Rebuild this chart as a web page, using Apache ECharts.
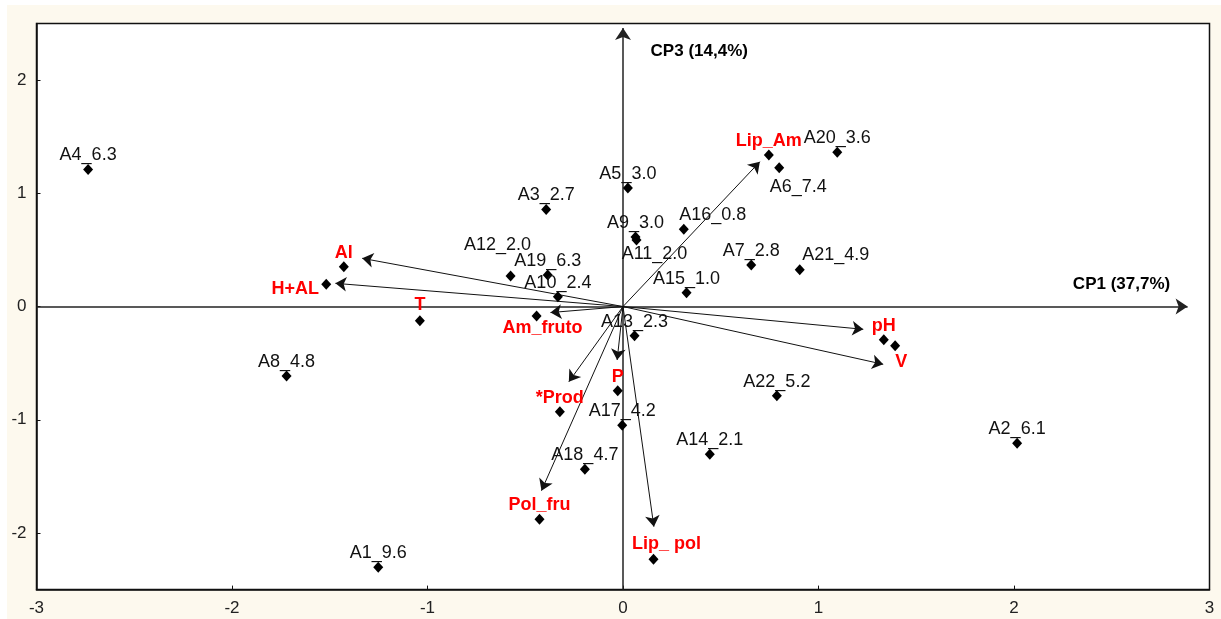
<!DOCTYPE html>
<html><head><meta charset="utf-8">
<script src="https://cdn.jsdelivr.net/npm/echarts@6/dist/echarts.min.js"></script>
<style>html,body{margin:0;padding:0;background:#fff}#c{width:1221px;height:619px}</style>
</head><body><div id="c"></div><script>
// Samples (scores)
const sampleNames = ['A1_9.6','A2_6.1','A3_2.7','A4_6.3','A5_3.0','A6_7.4','A7_2.8','A8_4.8','A9_3.0','A10_2.4','A11_2.0','A12_2.0','A13_2.3','A14_2.1','A15_1.0','A16_0.8','A17_4.2','A18_4.7','A19_6.3','A20_3.6','A21_4.9','A22_5.2'];
const sampleX = [-1.252, 2.016, -0.393, -2.736, 0.025, 0.799, 0.656, -1.721, 0.064, -0.333, 0.069, -0.575, 0.059, 0.444, 0.325, 0.311, -0.004, -0.195, -0.385, 1.096, 0.904, 0.787];
const sampleY = [-2.303, -1.208, 0.858, 1.211, 1.046, 1.226, 0.366, -0.614, 0.614, 0.087, 0.587, 0.269, -0.258, -1.305, 0.122, 0.682, -1.049, -1.438, 0.278, 1.362, 0.325, -0.788];
// Variables (loadings): point positions and vector tips
const varNames = ['Lip_Am','pH','V','Al','H+AL','T','Am_fruto','P','*Prod','Pol_fru','Lip_ pol'];
const varX = [0.746, 1.334, 1.392, -1.428, -1.518, -1.039, -0.442, -0.027, -0.323, -0.427, 0.156];
const varY = [1.338, -0.293, -0.346, 0.351, 0.196, -0.125, -0.084, -0.743, -0.929, -1.879, -2.232];
const arrowX = [0.700, 1.229, 1.331, -1.334, -1.471, null, -0.371, -0.030, -0.277, -0.417, 0.158];
const arrowY = [1.279, -0.201, -0.510, 0.426, 0.205, null, -0.053, -0.472, -0.664, -1.626, -1.944];
// Axis titles
const axisTitles = ['CP1 (37,7%)', 'CP3 (14,4%)'];
const axisTitleX = [2.55, 0.39];
const axisTitleY = [0.20, 2.25];
const yTickValues = [-2, -1, 0, 1, 2];

// label placement tweaks (style)
const defOff = [0, -14];
const sampleOff = {'A6_7.4':[19,19], 'A11_2.0':[18,14], 'A21_4.9':[36,-15], 'A12_2.0':[-13,-31], 'A16_0.8':[29,-14]};
const varOff = {'V':[6,16], 'H+AL':[-31,5], 'Am_fruto':[6,12], 'Lip_ pol':[13,-15], 'T':[0,-16]};

const FONT = '"Liberation Sans", Arial, sans-serif';
const chart = echarts.init(document.getElementById('c'), null, {renderer: 'canvas'});

const sampleData = sampleNames.map((n, i) => ({
  name: n, value: [sampleX[i], sampleY[i]],
  label: {offset: sampleOff[n] || defOff}
}));
const varData = varNames.map((n, i) => ({
  name: n, value: [varX[i], varY[i]],
  label: {offset: varOff[n] || defOff}
}));
const vecData = [];
varNames.forEach((n, i) => {
  if (arrowX[i] !== null) vecData.push({coords: [[0, 0], [arrowX[i], arrowY[i]]]});
});

chart.setOption({
  backgroundColor: '#fff',
  animation: false,
  graphic: [{type: 'rect', z: -10, silent: true, shape: {x: 7, y: 5, width: 1214, height: 614}, style: {fill: '#fdf9ee'}}],
  grid: {left: 36.5, right: 11.5, top: 23.5, bottom: 29.4, show: true, backgroundColor: '#fff', borderColor: '#111', borderWidth: 1.5},
  xAxis: {
    type: 'value', min: -3, max: 3, interval: 1,
    axisLine: {show: true, onZero: false, lineStyle: {color: '#111', width: 1.5}},
    axisTick: {show: true, inside: true, length: 4, lineStyle: {color: '#111'}},
    axisLabel: {color: '#222', fontSize: 17, fontFamily: FONT, margin: 10, showMinLabel: true, showMaxLabel: true},
    splitLine: {show: false}
  },
  yAxis: {
    type: 'value', min: -2.5, max: 2.5,
    axisLine: {show: true, onZero: false, lineStyle: {color: '#111', width: 1.5}},
    axisTick: {show: true, inside: true, length: 4, customValues: yTickValues, lineStyle: {color: '#111'}},
    axisLabel: {color: '#222', fontSize: 17, fontFamily: FONT, margin: 10, customValues: yTickValues},
    splitLine: {show: false}
  },
  series: [
    {
      type: 'lines', coordinateSystem: 'cartesian2d', z: 1,
      symbol: ['none', 'arrow'], symbolSize: 12,
      lineStyle: {color: '#222', width: 1.5, opacity: 1},
      data: [{coords: [[-3, 0], [2.888, 0]]}, {coords: [[0, -2.5], [0, 2.46]]}]
    },
    {
      type: 'lines', coordinateSystem: 'cartesian2d', z: 2,
      symbol: ['none', 'arrow'], symbolSize: 11,
      lineStyle: {color: '#111', width: 1, opacity: 1},
      data: vecData
    },
    {
      type: 'scatter', z: 3, symbol: 'diamond', symbolSize: [10, 11],
      itemStyle: {color: '#000', opacity: 1},
      label: {show: true, position: 'inside', formatter: '{b}', color: '#111', fontSize: 18, fontFamily: FONT},
      data: sampleData
    },
    {
      type: 'scatter', z: 3, symbol: 'diamond', symbolSize: [10, 11],
      itemStyle: {color: '#000', opacity: 1},
      label: {show: true, position: 'inside', formatter: '{b}', color: '#ff0000', fontSize: 18, fontWeight: 'bold', fontFamily: FONT},
      data: varData
    },
    {
      type: 'scatter', z: 3, symbolSize: 0,
      itemStyle: {opacity: 1},
      label: {show: true, position: 'inside', formatter: '{b}', color: '#000', fontSize: 17, fontWeight: 'bold', fontFamily: FONT},
      data: axisTitles.map((t, i) => ({name: t, value: [axisTitleX[i], axisTitleY[i]]}))
    }
  ]
});
</script></body></html>
